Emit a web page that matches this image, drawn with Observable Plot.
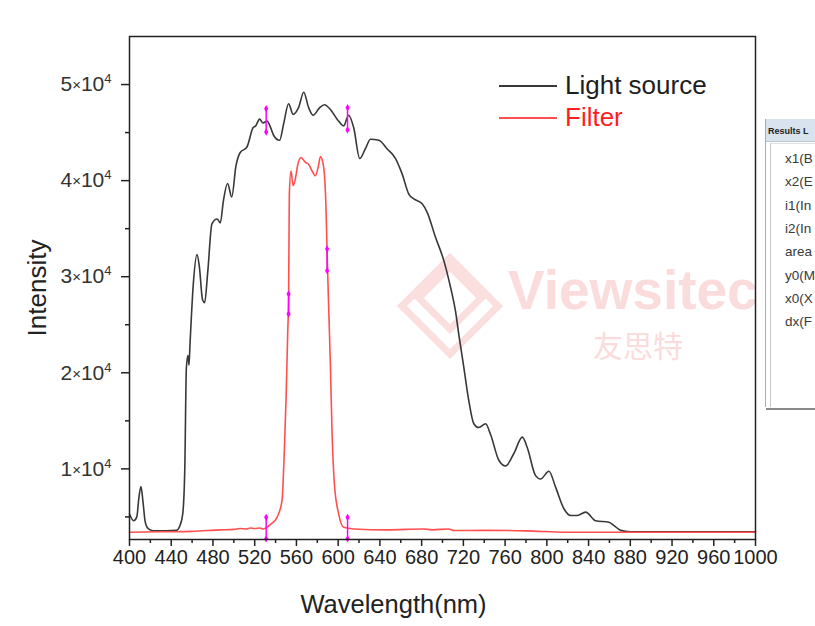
<!DOCTYPE html>
<html><head><meta charset="utf-8">
<script src="https://cdn.jsdelivr.net/npm/d3@7"></script>
<script src="https://cdn.jsdelivr.net/npm/@observablehq/plot@0.6"></script>
<style>
body{margin:0;background:#fff;font-family:"Liberation Sans",Arial,sans-serif;}
#wrap{position:relative;width:815px;height:626px;overflow:hidden;background:#fff;}
#wm{position:absolute;left:0;top:0;width:815px;height:626px;}
#chart{position:absolute;left:0;top:0;}
#legend{position:absolute;left:499px;top:70px;}
.lg{position:relative;height:32px;}
.lg .ln{position:absolute;left:0;top:15px;width:58px;height:2px;}
.lg .tx{position:absolute;left:66px;top:-1px;font-size:26px;line-height:32px;white-space:nowrap;}
#panel{position:absolute;left:765px;top:119px;width:70px;height:288px;border-left:1px solid #aab;background:#fff;}
#panel .hd{height:22px;background:#d8e3ef;font-size:9px;font-weight:bold;color:#222;padding-left:2px;line-height:24px;border-bottom:1px solid #b9c6d4;}
#panel .box{position:absolute;left:4px;top:24px;right:0;bottom:0;border-left:1px solid #c8c8c8;border-top:1px solid #e0e0e0;}
#panel .it{position:absolute;left:19px;font-size:13.5px;line-height:16px;color:#3a3a3a;}
#panel .sh{position:absolute;left:0;right:0;bottom:-3px;height:2px;background:#8a8a8a;}
</style></head><body>
<div id="wrap">
  <svg id="wm" width="815" height="626">
    <g fill="none" stroke="#fbdede" stroke-width="7">
      <rect x="-22" y="-22" width="44" height="44" transform="translate(450,298) rotate(45)"/>
      <rect x="-34" y="-34" width="68" height="68" transform="translate(450,306) rotate(45)"/>
    </g>
    <text x="508" y="309" font-size="55" font-weight="bold" fill="#fadcdc" font-family="Liberation Sans, Arial">Viewsitec</text>
    <text x="593" y="357" font-size="30" fill="#fadcdc" font-family="Noto Sans CJK SC">友思特</text>
  </svg>
  <div id="chart"></div>
  <div id="legend"></div>
  <div id="panel"></div>
</div>
<script>
// Light source spectrum (wavelength nm, intensity)
const lightNm = [400,404,407,409,411,413,415,417,420,425,435,445,448,451,453,454.5,456,457,458,461,464.7,467,470,472,475,479,484,487,490,494,498,502,506,512.6,518.4,521,524.7,528,531.8,535,538.2,543.9,547.7,552.5,556.8,562,567,571.7,576,582.3,586.8,592.6,599,605.3,610,614.9,620.7,626,631,639,647,655,661.3,667.7,672.5,680.5,685.3,693.3,701.2,707.7,712.5,715.6,720.4,725.2,730,734.8,741.3,746,754,760.4,768.4,776.5,781.3,789.2,794,802,808.4,816.4,822.8,829.2,837.2,846.8,859.5,864.4,870.8,880,900,950,1000];
const lightI = [5300,4600,5000,7000,8150,6500,4500,3900,3650,3550,3550,3600,4000,5300,10000,20500,21800,20800,23000,29000,32300,31000,27600,27300,30500,35500,36000,35600,37900,39700,38300,41500,42900,43500,45500,45700,46400,46000,46200,45600,44700,44200,45900,48000,46900,47600,49200,47600,46800,47600,47900,47400,46400,45700,46800,45500,42300,43300,44300,44200,43300,42300,40700,38600,38100,37600,36700,34100,31700,28900,26400,24000,20600,17100,14700,14300,14700,13600,10900,10300,11600,13300,12200,9300,8950,9750,8100,5850,5150,5150,5500,4600,4450,4100,3600,3450,3450,3450,3450];
// Filter transmission spectrum
const filterNm = [400,430,460,487,500,506,512,516,520,525,528,531.8,536,541.4,546.2,548.4,550,551.6,552.5,553.2,554.8,556.8,559,561,564.4,568.6,571.7,575,578.2,581,583,586.1,588.4,589.4,591,592.6,594.2,596.4,600.5,605.3,615,647,682,690,706,711,740,780,819,900,1000];
const filterI = [3400,3450,3500,3650,3700,3800,3750,3850,3800,3850,3750,3920,4300,4960,6700,11900,17100,24000,28000,38600,41000,39500,40200,41500,42400,41900,41700,41000,40500,41500,42500,41400,36900,32500,26500,20600,13600,8400,5300,3920,3750,3650,3750,3650,3750,3580,3600,3550,3400,3400,3400];
// Peak-analysis markers (x, y1, y2)
const markX  = [531, 609, 552.5, 589.4, 531, 609];
const markY1 = [45060, 45280, 26130, 30630, 2720, 2720];
const markY2 = [47490, 47590, 28210, 32890, 4960, 4960];
// Ticks
const xMajor = [400,440,480,520,560,600,640,680,720,760,800,840,880,920,960,1000];
const xMinor = [420,460,500,540,580,620,660,700,740,780,820,860,900,940,980];
const yMajor = [10000,20000,30000,40000,50000];
const yMinor = [5000,15000,25000,35000,45000];
const yLabels = ["1×10⁴","2×10⁴","3×10⁴","4×10⁴","5×10⁴"];
const seriesNames = ["Light source","Filter"];
const seriesColors = ["#383838","#ff4f4f"];
const legendTextColors = ["#1e1e1e","#ff1e1e"];

const light = lightNm.map((x,i)=>({x, y: lightI[i]}));
const filter = filterNm.map((x,i)=>({x, y: filterI[i]}));
const marks = markX.map((x,i)=>({x, y1: markY1[i], y2: markY2[i]}));

const chart = Plot.plot({
  width: 815, height: 626,
  marginLeft: 129, marginRight: 60, marginTop: 36, marginBottom: 87,
  style: {background: "transparent", fontFamily: "Liberation Sans, Arial, sans-serif", color: "#222"},
  x: {domain: [400, 1000]},
  y: {domain: [2650, 55000]},
  marks: [
    Plot.line(light, {x: "x", y: "y", stroke: seriesColors[0], strokeWidth: 1.6, curve: "monotone-x"}),
    Plot.line(filter, {x: "x", y: "y", stroke: seriesColors[1], strokeWidth: 1.6, curve: "monotone-x"}),
    Plot.ruleX(marks, {x: "x", y1: "y1", y2: "y2", stroke: "#ff00ff", strokeWidth: 1.5}),
    Plot.dot(marks, {x: "x", y: "y1", symbol: "diamond", r: 2.2, fill: "#ff00ff"}),
    Plot.dot(marks, {x: "x", y: "y2", symbol: "diamond", r: 2.2, fill: "#ff00ff"}),
    Plot.frame({stroke: "#222", strokeWidth: 1.5}),
    Plot.axisX({ticks: xMajor, tickSize: 7, tickPadding: 3, fontSize: 20, label: null, stroke: "#222", strokeWidth: 1.5, fill: "#222", tickFormat: d => String(d)}),
    Plot.axisX({ticks: xMinor, tickSize: 4, label: null, stroke: "#222", strokeWidth: 1.5, tickFormat: () => ""}),
    Plot.axisY({ticks: yMajor, tickSize: 8, tickPadding: 10, fontSize: 21, label: null, stroke: "#222", strokeWidth: 1.5, fill: "#333", tickFormat: d => yLabels[yMajor.indexOf(d)]}),
    Plot.axisY({ticks: yMinor, tickSize: 4, label: null, stroke: "#222", strokeWidth: 1.5, tickFormat: () => ""}),
    Plot.text(["Intensity"], {text: d => d, frameAnchor: "left", textAnchor: "middle", lineAnchor: "middle", dx: -92, rotate: -90, fontSize: 26, fill: "#222"}),
    Plot.text(["Wavelength(nm)"], {text: d => d, frameAnchor: "bottom", textAnchor: "middle", lineAnchor: "middle", dx: -49, dy: 65, fontSize: 25.5, fill: "#222"})
  ]
});
document.getElementById("chart").appendChild(chart);

// Render y tick labels as mantissa × 10 with a raised exponent
const supMap = {"⁰":"0","¹":"1","²":"2","³":"3","⁴":"4","⁵":"5","⁶":"6","⁷":"7","⁸":"8","⁹":"9"};
d3.select(chart).selectAll('[aria-label="y-axis tick label"] text').each(function(){
  const t = this.textContent;
  if (!t || t.indexOf("×") < 0) return;
  const m = t.split("×")[0];
  const rest = t.split("×")[1];
  const exp = [...rest.slice(2)].map(c => supMap[c] || c).join("");
  const sel = d3.select(this); sel.text("");
  sel.append("tspan").text(m);
  sel.append("tspan").attr("font-size", 15).attr("dy", "-1").text("×");
  sel.append("tspan").attr("dy", "1").text("10");
  sel.append("tspan").attr("font-size", 13).attr("dy", "-8").text(exp);
});

const lg = document.getElementById("legend");
seriesNames.forEach((n,i)=>{
  const row = document.createElement("div"); row.className = "lg";
  row.innerHTML = `<div class="ln" style="background:${seriesColors[i]}"></div><div class="tx" style="color:${legendTextColors[i]}">${n}</div>`;
  lg.appendChild(row);
});

const panelItems = ["x1(B","x2(E","i1(In","i2(In","area","y0(M","x0(X","dx(F"];
const panel = document.getElementById("panel");
panel.innerHTML = `<div class="hd">Results L</div><div class="box"></div><div class="sh"></div>`;
panelItems.forEach((t,i)=>{
  const d = document.createElement("div"); d.className = "it";
  d.style.top = (32 + i*23.3) + "px"; d.textContent = t; panel.appendChild(d);
});
</script>
</body></html>
